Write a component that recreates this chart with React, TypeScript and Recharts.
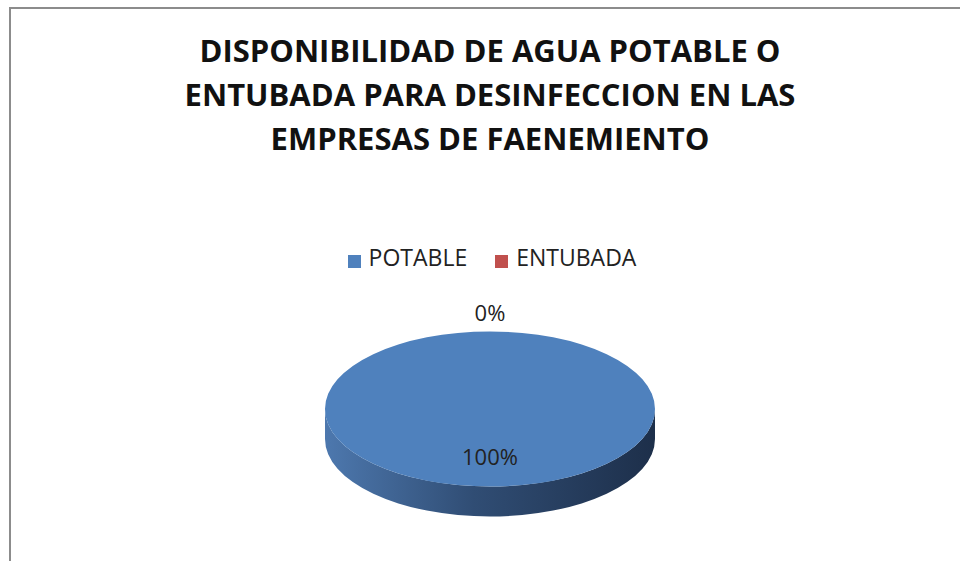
import React from 'react';
import { PieChart, Pie, Cell, Legend } from 'recharts';

const categories = ['POTABLE', 'ENTUBADA'];
const values = [100, 0];
const colors = ['#4f81bd', '#c0504d'];
const titleLines = [
  'DISPONIBILIDAD DE AGUA POTABLE O',
  'ENTUBADA PARA DESINFECCION EN LAS',
  'EMPRESAS DE FAENEMIENTO',
];

const data = categories.map((name, i) => ({ name, value: values[i] }));

const TILT = 0.47;
const DEPTH = 30;
const FONT = '"Open Sans", "Noto Sans", sans-serif';
const RAD = Math.PI / 180;

const ellipsePoint = (cx: number, cy: number, rx: number, ry: number, a: number) => ({
  x: cx + rx * Math.cos(-a * RAD),
  y: cy + ry * Math.sin(-a * RAD),
});

// 3D-looking elliptical slice
const Slice3D = (props: any) => {
  const { cx, cy, outerRadius, startAngle, endAngle, fill } = props;
  const span = Math.abs(endAngle - startAngle);
  if (span < 0.01) return <g />;
  const rx = outerRadius;
  const ry = outerRadius * TILT;
  let top: string;
  if (span >= 359.99) {
    top = `M ${cx - rx} ${cy} A ${rx} ${ry} 0 1 0 ${cx + rx} ${cy} A ${rx} ${ry} 0 1 0 ${cx - rx} ${cy} Z`;
  } else {
    const p1 = ellipsePoint(cx, cy, rx, ry, startAngle);
    const p2 = ellipsePoint(cx, cy, rx, ry, endAngle);
    const large = span > 180 ? 1 : 0;
    const sweep = endAngle < startAngle ? 1 : 0;
    top = `M ${cx} ${cy} L ${p1.x} ${p1.y} A ${rx} ${ry} 0 ${large} ${sweep} ${p2.x} ${p2.y} Z`;
  }
  const side =
    span >= 359.99
      ? `M ${cx - rx} ${cy} L ${cx - rx} ${cy + DEPTH} A ${rx} ${ry} 0 0 0 ${cx + rx} ${cy + DEPTH} L ${cx + rx} ${cy} A ${rx} ${ry} 0 0 1 ${cx - rx} ${cy} Z`
      : null;
  return (
    <g>
      <defs>
        <linearGradient id="sideGrad" x1="0" y1="0" x2="1" y2="0">
          <stop offset="0%" stopColor="#4d78ae" />
          <stop offset="45%" stopColor="#304d74" />
          <stop offset="100%" stopColor="#1d2f4a" />
        </linearGradient>
      </defs>
      {side && <path d={side} fill="url(#sideGrad)" />}
      <path d={top} fill={fill} />
    </g>
  );
};

const renderLabel = (props: any) => {
  const { cx, cy, midAngle, outerRadius, percent } = props;
  const ry = outerRadius * TILT;
  const full = percent > 0.99;
  const p = full
    ? ellipsePoint(cx, cy, outerRadius * 0.6, ry * 0.6, midAngle)
    : ellipsePoint(cx, cy, outerRadius + 20, ry + 19, midAngle);
  return (
    <text
      x={p.x}
      y={p.y}
      textAnchor="middle"
      dominantBaseline="central"
      fill="#222"
      style={{ fontFamily: FONT, fontSize: 22 }}
    >
      {`${Math.round(percent * 100)}%`}
    </text>
  );
};

export default function App() {
  return (
    <div style={{ position: 'absolute', left: 0, top: 0, width: 960, height: 561, background: '#fff', overflow: 'hidden' }}>
      <div
        style={{
          position: 'absolute',
          left: 9,
          top: 7,
          width: 1000,
          height: 600,
          border: '2px solid #8c8c8c',
          boxSizing: 'border-box',
        }}
      />
      {titleLines.map((t, i) => (
        <div
          key={t}
          style={{
            position: 'absolute',
            left: 0,
            width: 980,
            top: 28 + i * 44,
            textAlign: 'center',
            fontFamily: FONT,
            fontWeight: 700,
            fontSize: 31,
            lineHeight: '44px',
            color: '#111',
          }}
        >
          {t}
        </div>
      ))}
      <div style={{ position: 'absolute', left: 0, top: 0 }}>
        <PieChart width={960} height={561}>
          <Legend
            verticalAlign="top"
            align="center"
            iconType="square"
            iconSize={13}
            itemSorter={(item: any) => categories.indexOf(item.value)}
            wrapperStyle={{ top: 241, left: 26, width: 960, fontFamily: FONT }}
            formatter={(value: string) => (
              <span style={{ color: '#222', fontSize: 23, marginLeft: 4, marginRight: 18 }}>{value}</span>
            )}
          />
          <Pie
            data={data}
            dataKey="value"
            nameKey="name"
            cx={485}
            cy={372}
            outerRadius={165}
            startAngle={90}
            endAngle={-270}
            stroke="none"
            shape={Slice3D}
            activeShape={Slice3D}
            inactiveShape={Slice3D}
            label={renderLabel}
            labelLine={false}
            isAnimationActive={false}
          >
            {data.map((d, i) => (
              <Cell key={d.name} fill={colors[i]} />
            ))}
          </Pie>
        </PieChart>
      </div>
    </div>
  );
}
